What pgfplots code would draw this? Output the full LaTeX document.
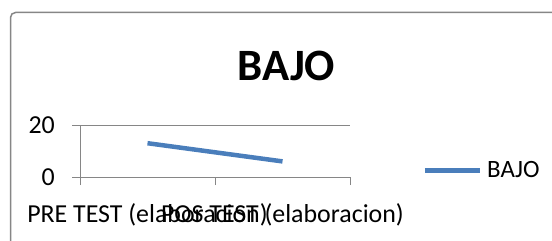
\documentclass[border=0pt]{standalone}
\usepackage{pgfplots}
\pgfplotsset{compat=1.18}
\usepackage{fontspec}
\setmainfont{Carlito}
\definecolor{axgray}{RGB}{134,134,134}
\definecolor{serblue}{RGB}{74,126,187}
\begin{document}
\begin{tikzpicture}[x=1bp,y=1bp]
\useasboundingbox (0,0) rectangle (552,240);
\draw[axgray, line width=1.5bp, rounded corners=5bp] (10.5,227.5) rectangle (640,-60);
\node[anchor=base, font=\fontsize{45}{50}\selectfont\bfseries, inner sep=0pt] at (286.5,160) {BAJO};
\begin{axis}[
  at={(80bp,63bp)}, anchor=south west,
  scale only axis, width=270bp, height=52bp,
  xmin=0, xmax=2, ymin=0, ymax=20,
  axis x line*=bottom, axis y line*=left,
  axis line style={axgray, line width=1bp},
  xtick={0.5,1.5},
  xticklabels={PRE TEST (elaboracion), POS TEST (elaboracion)},
  minor xtick={0,1,2},
  major x tick style={draw=none},
  ytick={0,20},
  tick align=outside,
  major tick length=8bp, minor tick length=8bp,
  every tick/.style={axgray, line width=1bp},
  ymajorgrids, grid style={axgray, line width=1bp},
  /pgf/number format/assume math mode=true,
  ticklabel style={font=\fontsize{26}{30}\selectfont, inner sep=0pt},
  xticklabel style={anchor=base, yshift=-37bp},
  yticklabel style={anchor=east, xshift=-17bp},
  legend style={at={(1.2693,0.125)}, anchor=west, draw=none, fill=none,
    inner sep=0pt, outer sep=0pt, font=\fontsize{25}{29}\selectfont,
    /tikz/every odd column/.style={column sep=5bp},
    nodes={inner sep=0pt}},
  legend image code/.code={\draw[#1] (0bp,0bp) -- (55bp,0bp);},
  clip=false,
]
\addplot[serblue, line width=4.5bp] coordinates {(0.5,13) (1.5,6)};
\addlegendentry{BAJO}
\end{axis}
\end{tikzpicture}
\end{document}
